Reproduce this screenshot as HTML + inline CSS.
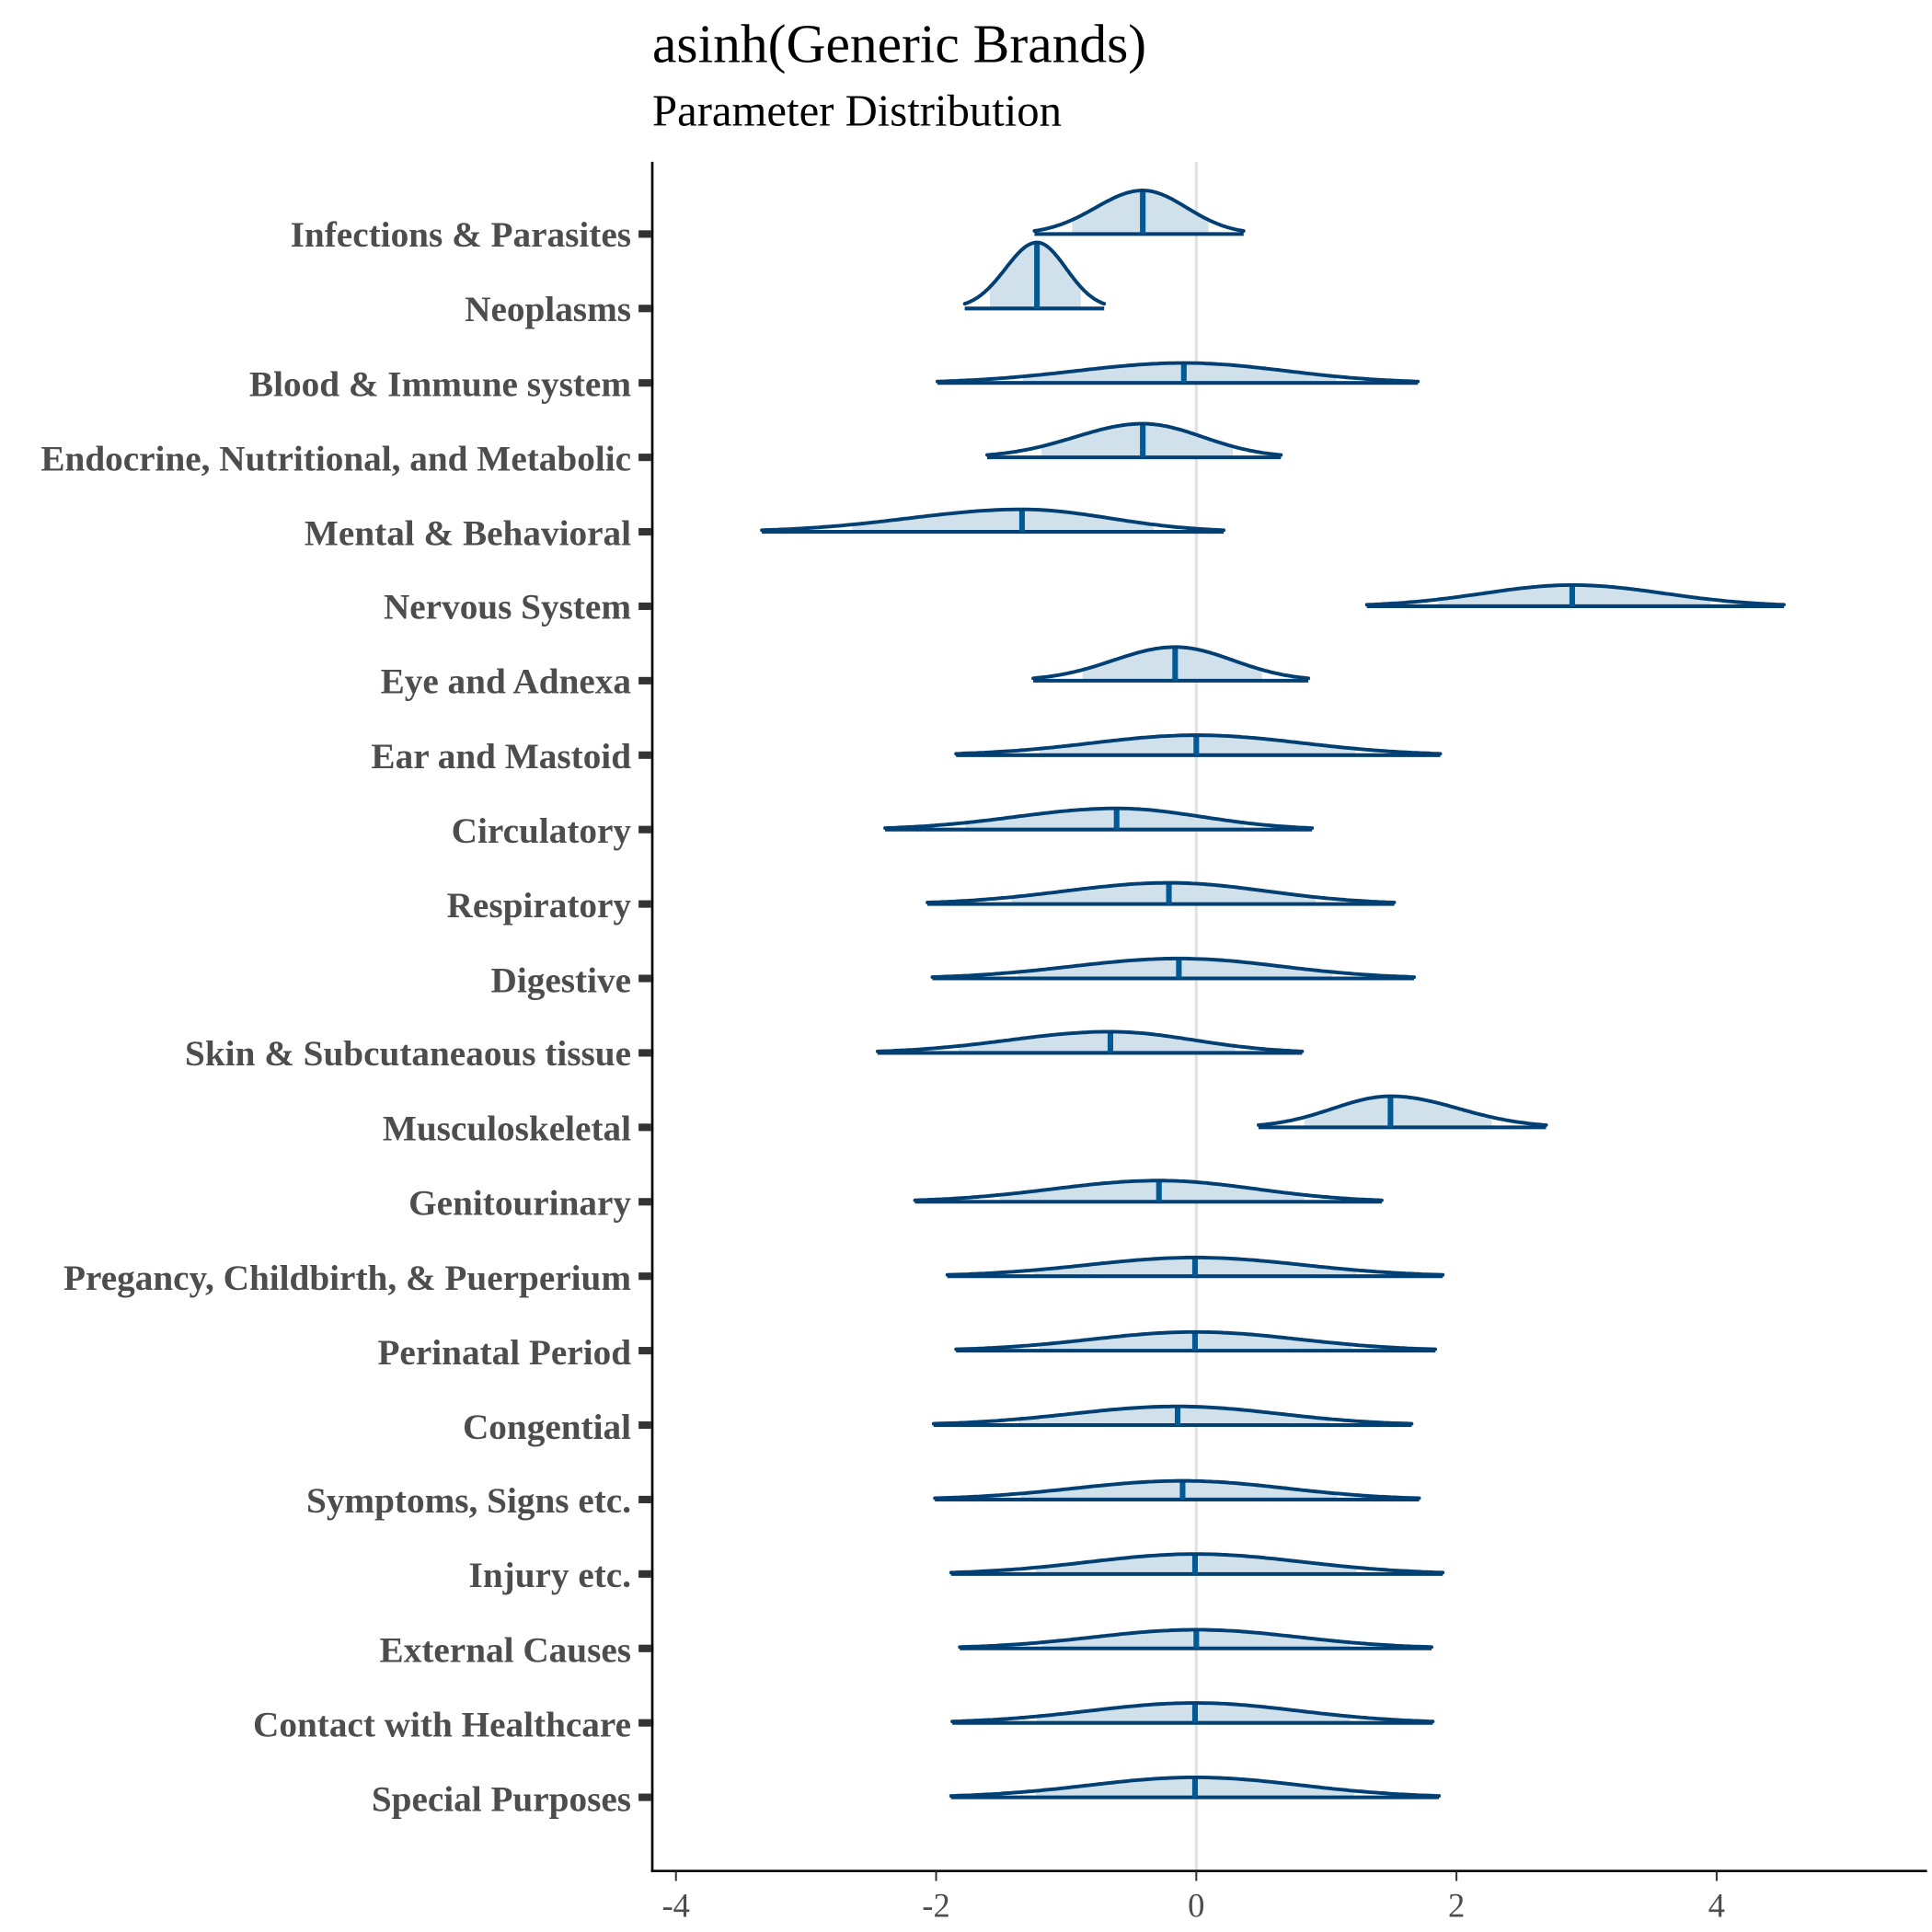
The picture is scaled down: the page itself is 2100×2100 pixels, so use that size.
<!DOCTYPE html>
<html><head><meta charset="utf-8"><style>
html,body{margin:0;padding:0;background:#fff;}
svg{display:block;}
.lab{font-family:"Liberation Serif",serif;font-weight:bold;font-size:29px;fill:#4d4d4d;text-anchor:end;}
.tk{font-family:"Liberation Serif",serif;font-size:27px;fill:#4d4d4d;text-anchor:middle;}
</style></head><body>
<svg id="s" width="2100" height="2100" viewBox="0 0 1552 1552" xmlns="http://www.w3.org/2000/svg">
<rect width="1552" height="1552" fill="#fff"/>
<text x="524" y="50" font-family="Liberation Serif, serif" font-size="44" fill="#000">asinh(Generic Brands)</text>
<text x="524" y="101" font-family="Liberation Serif, serif" font-size="36" fill="#000">Parameter Distribution</text>
<line x1="961" y1="130" x2="961" y2="1503" stroke="#e3e3e3" stroke-width="2.5"/>
<g id="ridges"></g>
<line x1="524" y1="130" x2="524" y2="1504" stroke="#000" stroke-width="2"/>
<line x1="523" y1="1503" x2="1548" y2="1503" stroke="#000" stroke-width="2"/>
<g stroke="#333" stroke-width="1.5">
<line x1="543" y1="1503" x2="543" y2="1511"/><line x1="752" y1="1503" x2="752" y2="1511"/><line x1="961" y1="1503" x2="961" y2="1511"/><line x1="1170" y1="1503" x2="1170" y2="1511"/><line x1="1379" y1="1503" x2="1379" y2="1511"/>
</g>
<text class="tk" x="543" y="1540">-4</text><text class="tk" x="752" y="1540">-2</text><text class="tk" x="961" y="1540">0</text><text class="tk" x="1170" y="1540">2</text><text class="tk" x="1379" y="1540">4</text>
<g id="labels">
<text class="lab" x="507" y="198">Infections &amp; Parasites</text>
<text class="lab" x="507" y="258">Neoplasms</text>
<text class="lab" x="507" y="318">Blood &amp; Immune system</text>
<text class="lab" x="507" y="378">Endocrine, Nutritional, and Metabolic</text>
<text class="lab" x="507" y="438">Mental &amp; Behavioral</text>
<text class="lab" x="507" y="497">Nervous System</text>
<text class="lab" x="507" y="557">Eye and Adnexa</text>
<text class="lab" x="507" y="617">Ear and Mastoid</text>
<text class="lab" x="507" y="677">Circulatory</text>
<text class="lab" x="507" y="737">Respiratory</text>
<text class="lab" x="507" y="797">Digestive</text>
<text class="lab" x="507" y="856">Skin &amp; Subcutaneaous tissue</text>
<text class="lab" x="507" y="916">Musculoskeletal</text>
<text class="lab" x="507" y="976">Genitourinary</text>
<text class="lab" x="507" y="1036">Pregancy, Childbirth, &amp; Puerperium</text>
<text class="lab" x="507" y="1096">Perinatal Period</text>
<text class="lab" x="507" y="1156">Congential</text>
<text class="lab" x="507" y="1215">Symptoms, Signs etc.</text>
<text class="lab" x="507" y="1275">Injury etc.</text>
<text class="lab" x="507" y="1335">External Causes</text>
<text class="lab" x="507" y="1395">Contact with Healthcare</text>
<text class="lab" x="507" y="1455">Special Purposes</text>
</g>
<g id="ticks" fill="#333"></g>
</svg>
<script>
var D=[[831,999,918,35],[775,887,833,53],[753,1139,951,16],[793,1029,918,27],[612,983,821,18],[1098,1433,1263,17],[830,1051,944,27],[768,1157,961,16],[711,1054,897,17],[745,1120,939,17],[749,1136,947,16],[705,1046,892,17],[1011,1242,1117,25],[735,1110,931,17],[761,1159,960,15],[768,1153,960,15],[750,1134,946,15],[751,1140,950,15],[764,1159,960,16],[771,1150,961,15],[765,1151,960,16],[764,1156,960,16]];
var NS="http://www.w3.org/2000/svg",g=document.getElementById("ridges"),tk=document.getElementById("ticks");
function el(n,a,p){var e=document.createElementNS(NS,n);for(var k in a)e.setAttribute(k,a[k]);p.appendChild(e);return e;}
D.forEach(function(d,i){
 var y=188+i*59.8,mn=d[0],mx=d[1],md=d[2],h=d[3];
 var sl=(md-mn)/2.3,sr=(mx-md)/2.3;
 function f(x){var s=x<md?sl:sr;return y-h*Math.exp(-Math.pow((x-md)/s,2)/2);}
 var pts=[];for(var k=0;k<=120;k++){var x=mn+(mx-mn)*k/120;pts.push([x,f(x)]);}
 var a=md-1.5*sl,b=md+1.5*sr,fp="M"+a+","+y;
 for(var k=0;k<=80;k++){var x=a+(b-a)*k/80;fp+=" L"+x.toFixed(1)+","+f(x).toFixed(1);}
 fp+=" L"+b+","+y+"Z";
 el("path",{d:fp,fill:"#d1e1ec"},g);
 el("line",{x1:mn,y1:y,x2:mx,y2:y,stroke:"#023f73","stroke-width":3},g);
 el("line",{x1:md,y1:y,x2:md,y2:f(md)+1,stroke:"#005a96","stroke-width":4.5},g);
 el("path",{d:"M"+pts.map(function(p){return p[0].toFixed(1)+","+p[1].toFixed(1);}).join(" L"),fill:"none",stroke:"#023f73","stroke-width":2.9,"stroke-linecap":"round","stroke-linejoin":"round"},g);
 el("rect",{x:513,y:y-3,width:10,height:6},tk);
});
</script>
</body></html>
